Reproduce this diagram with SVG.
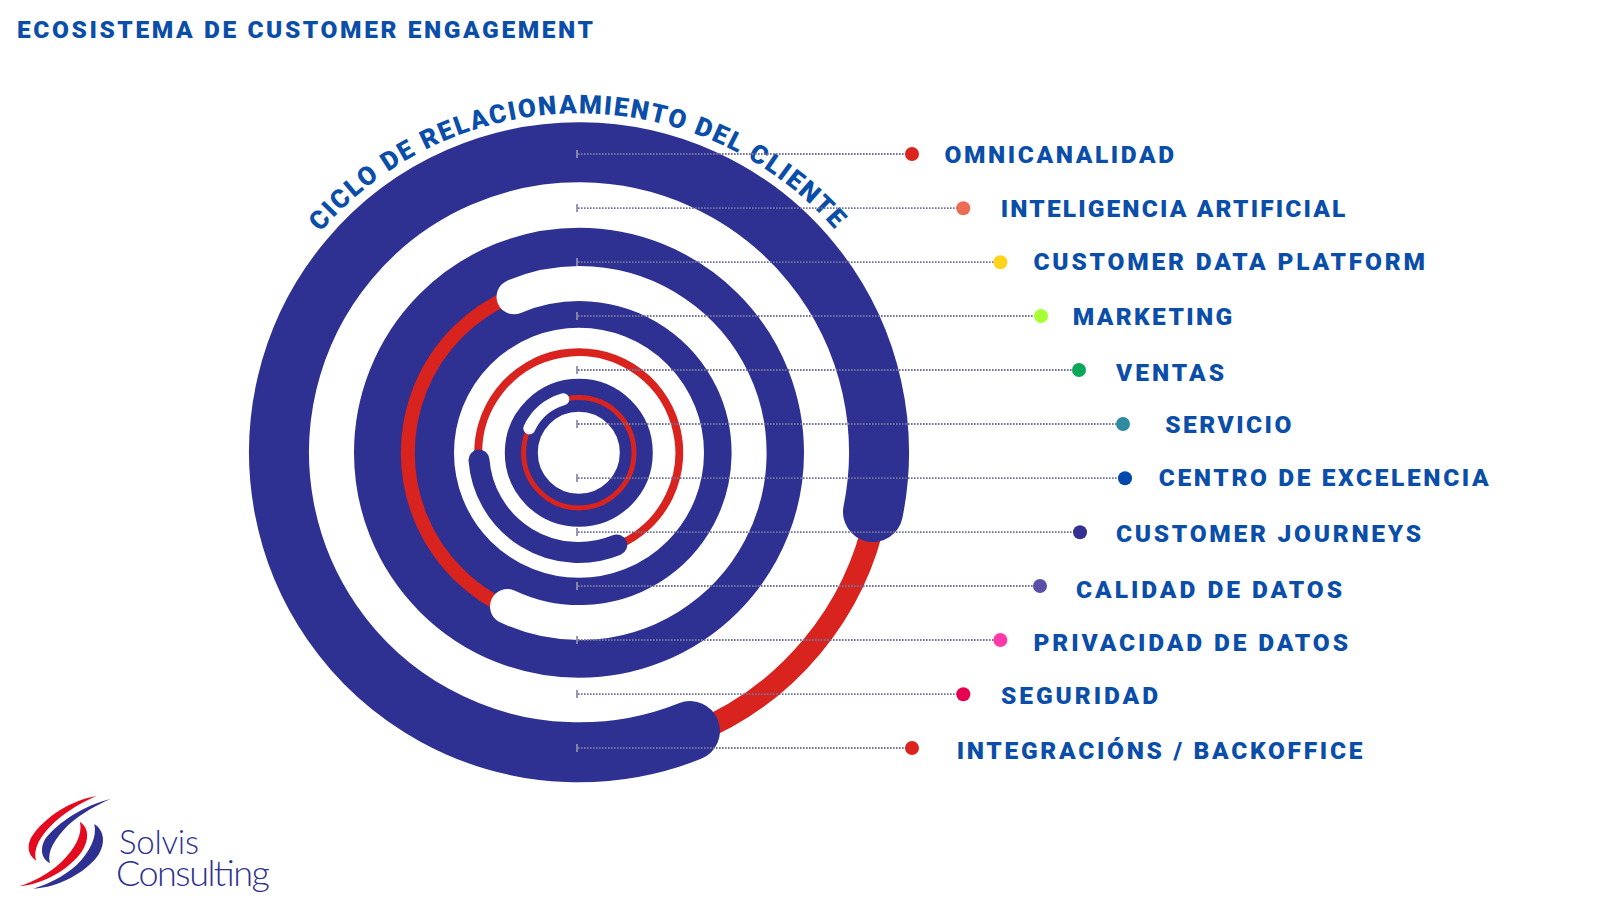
<svg xmlns="http://www.w3.org/2000/svg" xmlns:xlink="http://www.w3.org/1999/xlink" width="1600" height="901" viewBox="0 0 1600 901">
<style>
.lbl{font-family:Roboto,"Liberation Sans",Arial,sans-serif;font-weight:900;font-size:24.5px;fill:#0a4ea9}
.navy{fill:none;stroke:#2e3192}
.red{fill:none;stroke:#d9231e}
.wht{fill:none;stroke:#fff}
.lead{stroke:#72729c;stroke-width:1.8;stroke-dasharray:1.6 1.4;fill:none}
.tick{stroke:#8d8dad;stroke-width:1.8}
.logo{font-family:Lato,"Liberation Sans",sans-serif;font-weight:300;fill:#2e3192}
</style>
<defs><path id="arcText" d="M320.4 232.3A340 340 0 0 1 878 292" fill="none"/></defs>
<rect width="1600" height="901" fill="#fff"/>
<text id="title" class="lbl" x="17" y="38.3" textLength="576" lengthAdjust="spacing">ECOSISTEMA DE CUSTOMER ENGAGEMENT</text>
<g id="cycle">
<path class="red" stroke-width="22" d="M876 512.7A303 303 0 0 1 692.3 733.7"/>
<path class="navy" stroke-width="60" stroke-linecap="round" d="M873 512A300 300 0 1 0 690 731"/>
<circle class="navy" cx="579" cy="452.8" r="175" stroke-width="100"/>
<circle class="red" cx="578.8" cy="452.8" r="171" stroke-width="14"/>
<path class="wht" stroke-width="35" stroke-linecap="round" d="M514 296.8A169.5 169.5 0 1 1 507.5 606.5"/>
<path class="red" stroke-width="8" d="M478.5 460A100.5 100.5 0 1 1 617 545.6"/>
<path class="navy" stroke-width="21" stroke-linecap="round" d="M479 460A100 100 0 0 0 616.7 545"/>
<circle class="navy" cx="578.8" cy="452.8" r="57.5" stroke-width="33"/>
<circle class="red" cx="578.8" cy="452.8" r="55.2" stroke-width="5"/>
<path class="wht" stroke-width="12" stroke-linecap="round" d="M529.3 428.3A55 55 0 0 1 563.3 399.3"/>
</g>
<text id="cycle-label" class="lbl" style="font-size:26px;letter-spacing:1.85px"><textPath xlink:href="#arcText" href="#arcText" startOffset="0">CICLO DE RELACIONAMIENTO DEL CLIENTE</textPath></text>
<g id="connectors">
<path class="tick" d="M577 150v8M577 204v8M577 258v8M577 312v8M577 366v8M577 420v8M577 474v8M577 528v8M577 582v8M577 636v8M577 690v8M577 744v8"/>
<path class="lead" d="M578 154H906M578 208.2H957M578 262.2H994M578 316H1035M578 370H1073M578 424H1117M578 478.2H1119M578 532.2H1074M578 586H1034M578 640H994M578 694.2H957M578 748H906"/>
</g>
<g id="n1"><circle cx="912" cy="154" r="7" fill="#dc241f"/><text class="lbl" x="944.5" y="163.3" textLength="229.5" lengthAdjust="spacing">OMNICANALIDAD</text></g>
<g id="n2"><circle cx="963.3" cy="208.2" r="7" fill="#ee6c55"/><text class="lbl" x="1000.8" y="216.7" textLength="344.5" lengthAdjust="spacing">INTELIGENCIA ARTIFICIAL</text></g>
<g id="n3"><circle cx="1000.4" cy="262.2" r="7" fill="#ffd31a"/><text class="lbl" x="1033.5" y="270" textLength="391.5" lengthAdjust="spacing">CUSTOMER DATA PLATFORM</text></g>
<g id="n4"><circle cx="1041" cy="316" r="7" fill="#a6ff33"/><text class="lbl" x="1072.7" y="325" textLength="159.5" lengthAdjust="spacing">MARKETING</text></g>
<g id="n5"><circle cx="1079" cy="370" r="7" fill="#0aa65a"/><text class="lbl" x="1116" y="381" textLength="108" lengthAdjust="spacing">VENTAS</text></g>
<g id="n6"><circle cx="1123" cy="424" r="7" fill="#2f8a9f"/><text class="lbl" x="1165.3" y="432.7" textLength="126" lengthAdjust="spacing">SERVICIO</text></g>
<g id="n7"><circle cx="1125" cy="478.2" r="7" fill="#0049ad"/><text class="lbl" x="1158.8" y="486.3" textLength="330" lengthAdjust="spacing">CENTRO DE EXCELENCIA</text></g>
<g id="n8"><circle cx="1080" cy="532.2" r="7" fill="#33308f"/><text class="lbl" x="1116" y="541.7" textLength="305" lengthAdjust="spacing">CUSTOMER JOURNEYS</text></g>
<g id="n9"><circle cx="1040" cy="586" r="7" fill="#5b4fa8"/><text class="lbl" x="1076" y="598.3" textLength="266" lengthAdjust="spacing">CALIDAD DE DATOS</text></g>
<g id="n10"><circle cx="1000.4" cy="640" r="7" fill="#ff3aa8"/><text class="lbl" x="1033.5" y="651" textLength="314.5" lengthAdjust="spacing">PRIVACIDAD DE DATOS</text></g>
<g id="n11"><circle cx="963.3" cy="694.2" r="7" fill="#e6004f"/><text class="lbl" x="1001" y="704" textLength="157" lengthAdjust="spacing">SEGURIDAD</text></g>
<g id="n12"><circle cx="912" cy="748" r="7" fill="#dc241f"/><text class="lbl" x="956.7" y="759.3" textLength="405.7" lengthAdjust="spacing">INTEGRACIÓNS / BACKOFFICE</text></g>
<g id="logo">
<g transform="translate(0,780) scale(.3333)">
<path fill="#e30b20" d="M290 48C215 60 135 110 95 170C82 192 80 222 108 242C98 205 122 165 165 125C205 90 250 65 290 48Z"/>
<path fill="#2e3192" d="M332 57C255 75 175 125 135 178C120 205 122 235 150 250C140 215 165 175 205 135C245 100 290 75 332 57Z"/>
<path fill="#e30b20" d="M58 319C130 312 205 270 245 215C268 180 268 145 240 125C248 165 225 205 185 245C145 282 100 305 58 319Z"/>
<path fill="#2e3192" d="M100 326C175 322 255 280 295 225C318 190 312 150 283 132C292 170 270 215 230 255C190 290 145 312 100 326Z"/>
</g>
<text class="logo" x="119" y="854" font-size="33" textLength="80" lengthAdjust="spacing">Solvis</text>
<text class="logo" x="116" y="886" font-size="36" textLength="154" lengthAdjust="spacing">Consulting</text>
</g>
</svg>
